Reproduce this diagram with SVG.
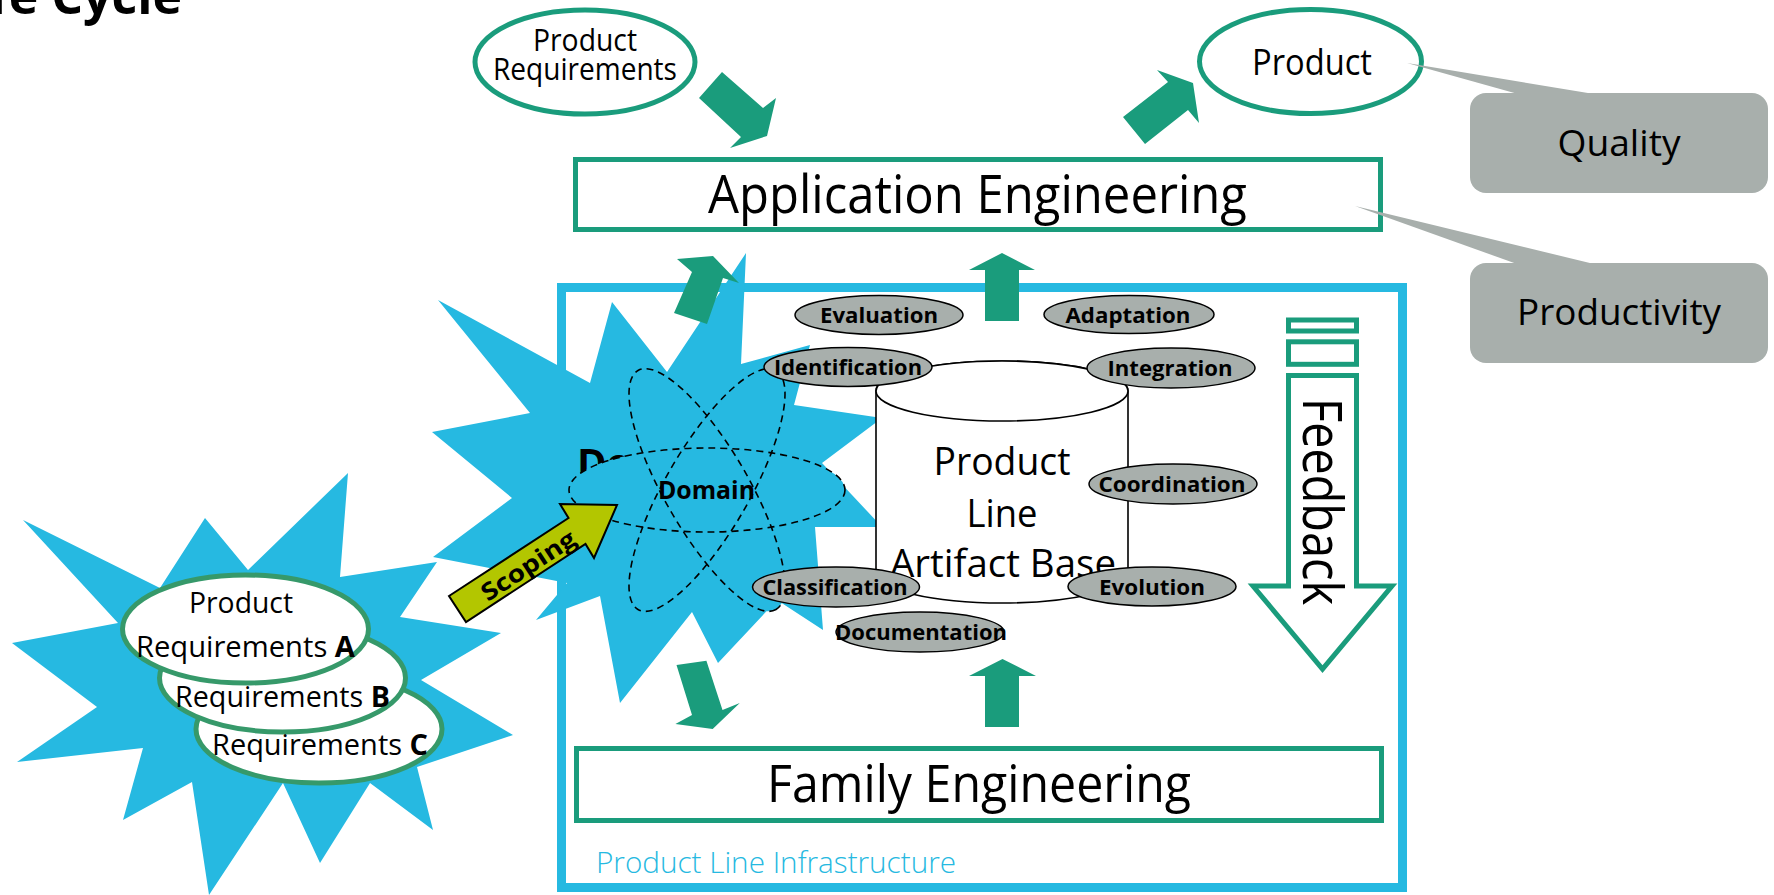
<svg xmlns="http://www.w3.org/2000/svg" width="1774" height="895" viewBox="0 0 1774 895">
<style>
text{font-family:"Open Sans","Liberation Sans",sans-serif;fill:#000}
.teal{fill:#1a9c7c}
.blue{fill:#26b9e1}
.oval{fill:#fff;stroke:#1a9c7c;stroke-width:5}
.req{fill:#fff;stroke:#36996a;stroke-width:5}
.box{fill:#fff;stroke:#1a9c7c;stroke-width:5}
.act{fill:#a8afac;stroke:#000;stroke-width:1.5}
.actt{font-weight:bold;font-size:22px;text-anchor:middle}
.b{font-weight:bold}
.dash{fill:none;stroke:#000;stroke-width:1.6;stroke-dasharray:7 5}
.gray{fill:#a8afac}
</style>
<rect width="1774" height="895" fill="#fff"/>
<text class="b" x="182" y="14" font-size="50" text-anchor="end">Life Cycle</text>

<g id="infrastructure">
<rect x="561.5" y="287.5" width="841" height="600" fill="none" stroke="#26b9e1" stroke-width="9"/>
<text x="596" y="873" font-size="29" font-weight="300" textLength="360" lengthAdjust="spacingAndGlyphs" style="fill:#26b9e1">Product Line Infrastructure</text>
</g>

<g id="family-engineering">
<rect class="box" x="576.5" y="748.5" width="805" height="72"/>
<text x="979" y="802" font-size="51" text-anchor="middle" textLength="424" lengthAdjust="spacingAndGlyphs">Family Engineering</text>
</g>

<g id="requirements">
<polygon class="blue" points="23,520 160,588 205,518 248,570 348,473 340,577 437,562 400,617 501,633 421,680 513,735 417,767 433,830 370,783 320,863 283,783 209,895 192,782 123,820 143,748 17,762 97,707 12,643 118,623"/>
<ellipse class="req" cx="319" cy="729" rx="123" ry="54"/>
<ellipse class="req" cx="282.5" cy="678" rx="123" ry="54"/>
<ellipse class="req" cx="245.5" cy="629" rx="123" ry="54"/>
<text x="241" y="613" font-size="29" text-anchor="middle" textLength="104" lengthAdjust="spacingAndGlyphs">Product</text>
<text x="136" y="657" font-size="29" textLength="219" lengthAdjust="spacingAndGlyphs">Requirements <tspan class="b">A</tspan></text>
<text x="175" y="707" font-size="29" textLength="215" lengthAdjust="spacingAndGlyphs">Requirements <tspan class="b">B</tspan></text>
<text x="212" y="755" font-size="29" textLength="216" lengthAdjust="spacingAndGlyphs">Requirements <tspan class="b">C</tspan></text>
</g>

<g id="domain">
<polygon class="blue" points="438,300 590,383 612,302 667,372 746,253 741,364 810,345 794,405 882,418 822,463 882,527 815,527 823,630 777,600 718,663 692,612 620,703 600,596 536,620 567,583 433,557 512,498 432,432 530,413"/>
<text class="b" x="577" y="477" font-size="40">Do</text>
<g fill="#26b9e1">
<ellipse cx="707" cy="490" rx="138" ry="42"/>
<ellipse cx="707" cy="490" rx="138" ry="42" transform="rotate(60 707 490)"/>
<ellipse cx="707" cy="490" rx="138" ry="42" transform="rotate(-60 707 490)"/>
</g>
<ellipse class="dash" cx="707" cy="490" rx="138" ry="42"/>
<ellipse class="dash" cx="707" cy="490" rx="138" ry="42" transform="rotate(60 707 490)"/>
<ellipse class="dash" cx="707" cy="490" rx="138" ry="42" transform="rotate(-60 707 490)"/>
<text class="b" x="706.5" y="499" font-size="25" text-anchor="middle" textLength="97" lengthAdjust="spacingAndGlyphs">Domain</text>
</g>

<g id="scoping">
<polygon points="449,596 568.5,518 560,504 617,505 594,558 585.5,544 466,622" fill="#b3c600" stroke="#000" stroke-width="2"/>
<text class="b" transform="translate(528,565) rotate(-33.2)" y="9" font-size="24" text-anchor="middle" textLength="108" lengthAdjust="spacingAndGlyphs">Scoping</text>
</g>

<g id="artifact-base">
<path d="M876,391 L876,573 A126,30 0 0 0 1128,573 L1128,391 A126,30 0 0 0 876,391 Z" fill="#fff" stroke="#000" stroke-width="1.6"/>
<ellipse cx="1002" cy="391" rx="126" ry="30" fill="#fff" stroke="#000" stroke-width="1.6"/>
<text x="1002" y="475" font-size="39" text-anchor="middle" textLength="137" lengthAdjust="spacingAndGlyphs">Product</text>
<text x="1002" y="527" font-size="39" text-anchor="middle" textLength="71" lengthAdjust="spacingAndGlyphs">Line</text>
<text x="1003" y="577" font-size="39" text-anchor="middle" textLength="226" lengthAdjust="spacingAndGlyphs">Artifact Base</text>
</g>

<g id="activities">
<g id="evaluation"><ellipse class="act" cx="879" cy="315" rx="84" ry="19.5"/><text class="actt" x="879" y="323" textLength="118" lengthAdjust="spacingAndGlyphs">Evaluation</text></g>
<g id="adaptation"><ellipse class="act" cx="1129" cy="314.5" rx="85" ry="19"/><text class="actt" x="1128" y="322.5" textLength="125" lengthAdjust="spacingAndGlyphs">Adaptation</text></g>
<g id="identification"><ellipse class="act" cx="848" cy="367" rx="84" ry="19.5"/><text class="actt" x="848" y="375" textLength="148" lengthAdjust="spacingAndGlyphs">Identification</text></g>
<g id="integration"><ellipse class="act" cx="1171" cy="368" rx="84" ry="20"/><text class="actt" x="1170" y="376" textLength="125" lengthAdjust="spacingAndGlyphs">Integration</text></g>
<g id="coordination"><ellipse class="act" cx="1173" cy="484" rx="84" ry="20"/><text class="actt" x="1172" y="492" textLength="147" lengthAdjust="spacingAndGlyphs">Coordination</text></g>
<g id="classification"><ellipse class="act" cx="836" cy="587" rx="83.5" ry="20"/><text class="actt" x="835" y="595" textLength="145" lengthAdjust="spacingAndGlyphs">Classification</text></g>
<g id="evolution"><ellipse class="act" cx="1152" cy="586.5" rx="84" ry="19.5"/><text class="actt" x="1152" y="594.5" textLength="106" lengthAdjust="spacingAndGlyphs">Evolution</text></g>
<g id="documentation"><ellipse class="act" cx="920" cy="632" rx="84" ry="20"/><text class="actt" x="921" y="640" textLength="172" lengthAdjust="spacingAndGlyphs">Documentation</text></g>
</g>

<g id="feedback" fill="#fff" stroke="#1a9c7c" stroke-width="5">
<rect x="1288.5" y="320" width="68" height="11"/>
<rect x="1288.5" y="341.8" width="68" height="22.5"/>
<path d="M1288.5,375.5 L1356.5,375.5 L1356.5,586 L1392,586 L1322.5,669 L1253,586 L1288.5,586 Z"/>
<text transform="translate(1303,398) rotate(90)" font-size="55" stroke="none" textLength="207" lengthAdjust="spacingAndGlyphs" style="fill:#000">Feedback</text>
</g>

<g id="application-engineering">
<rect class="box" x="575.5" y="159.5" width="805" height="70"/>
<text x="977.5" y="213" font-size="53" text-anchor="middle" textLength="539" lengthAdjust="spacingAndGlyphs">Application Engineering</text>
</g>

<g id="product-requirements">
<ellipse class="oval" cx="585" cy="62" rx="110" ry="52"/>
<text x="585" y="51" font-size="31" text-anchor="middle" textLength="104" lengthAdjust="spacingAndGlyphs">Product</text>
<text x="585" y="80" font-size="31" text-anchor="middle" textLength="184" lengthAdjust="spacingAndGlyphs">Requirements</text>
</g>

<g id="product">
<ellipse class="oval" cx="1310.5" cy="61.5" rx="111" ry="52"/>
<text x="1312" y="75" font-size="36" text-anchor="middle" textLength="120" lengthAdjust="spacingAndGlyphs">Product</text>
</g>

<g id="connectors" class="teal">
<polygon points="722,72 763,108 776,98 767,136 730,148 741,137 699,98"/>
<polygon points="1123,117 1168,82 1157,70 1193,83 1199,123 1188,110 1145,144"/>
<polygon points="677,259 713,256 739,283 723,278 707,324 674,313 692,272"/>
<polygon points="1002,253 1035,270 1019,270 1019,321 985,321 985,270 969,270"/>
<polygon points="676.5,665 706.4,660.7 722.5,710 739.8,703 712.7,729 675.4,724 692,715"/>
<polygon points="1002.5,659 1036,676 1019,676 1019,727 985,727 985,676 969,676"/>
</g>

<g id="quality">
<polygon class="gray" points="1407,63 1518,94 1594,94"/>
<rect class="gray" x="1470" y="93" width="298" height="100" rx="16"/>
<text x="1619" y="156" font-size="37" text-anchor="middle" textLength="123" lengthAdjust="spacingAndGlyphs">Quality</text>
</g>

<g id="productivity">
<polygon class="gray" points="1355,206 1517,264 1594,264"/>
<rect class="gray" x="1470" y="263" width="298" height="100" rx="16"/>
<text x="1619" y="325" font-size="37" text-anchor="middle" textLength="204" lengthAdjust="spacingAndGlyphs">Productivity</text>
</g>
</svg>
